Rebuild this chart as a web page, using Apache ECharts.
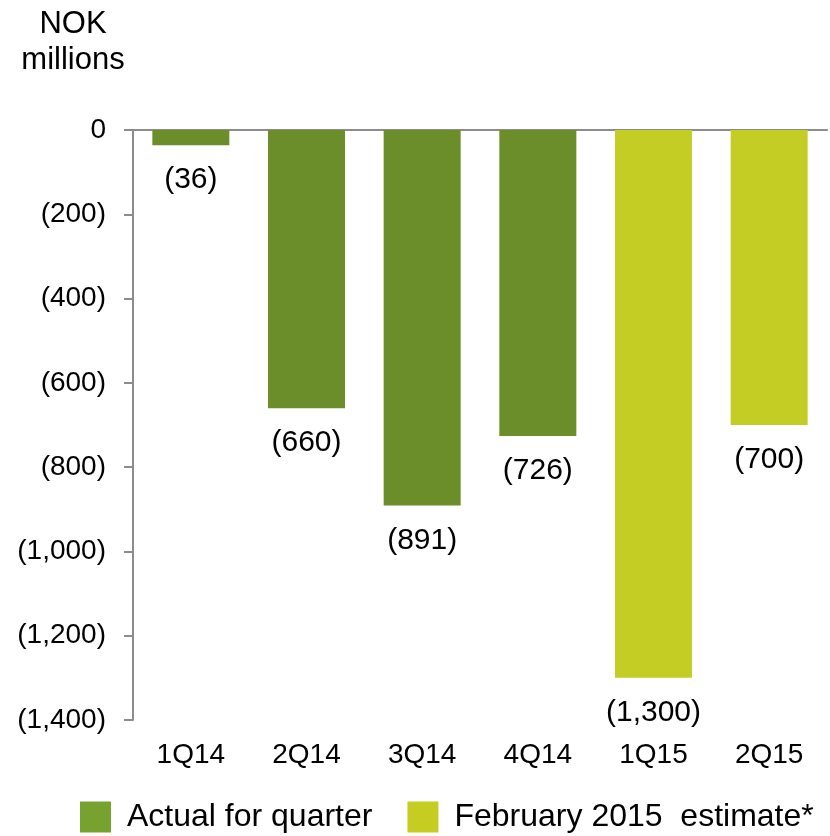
<!DOCTYPE html>
<html>
<head>
<meta charset="utf-8">
<style>html,body{margin:0;padding:0;background:#fff;}#chart{width:830px;height:836px;}</style>
<script src="https://cdn.jsdelivr.net/npm/echarts@6/dist/echarts.min.js"></script>
</head>
<body>
<div id="chart"></div>
<script>
const categories = ['1Q14', '2Q14', '3Q14', '4Q14', '1Q15', '2Q15'];
const actualValues = [-36, -660, -891, -726, null, null];
const estimateValues = [null, null, null, null, -1300, -700];
const seriesNames = ['Actual for quarter', 'February 2015  estimate*'];
const unitLabel = 'NOK\nmillions';

const FONT = '"Liberation Sans", Arial, sans-serif';
function fmt(v) {
  if (v === 0) return '0';
  const s = Math.abs(v).toLocaleString('en-US');
  return v < 0 ? '(' + s + ')' : s;
}

const chart = echarts.init(document.getElementById('chart'));
const labelOpt = {
  show: true, position: 'bottom', distance: 20,
  fontFamily: FONT, fontSize: 30, color: '#000',
  formatter: p => fmt(p.value)
};
chart.setOption({
  animation: false,
  backgroundColor: '#fff',
  textStyle: { fontFamily: FONT },
  graphic: [{
    type: 'text', x: 73, y: 6,
    style: { text: unitLabel, x: 0, y: 0, textAlign: 'center', fontFamily: FONT, fontSize: 31, lineHeight: 36, fill: '#000' }
  }],
  legend: {
    left: 80, top: 801, padding: 0, itemWidth: 31, itemHeight: 31, itemGap: 35,
    icon: 'rect',
    textStyle: { fontFamily: FONT, fontSize: 32, color: '#000', padding: [8, 0, 0, 11] },
    data: [
      { name: seriesNames[0], itemStyle: { color: '#78A22F' } },
      { name: seriesNames[1], itemStyle: { color: '#C5CC22' } }
    ]
  },
  grid: { left: 133, right: 3, top: 130, bottom: 116, containLabel: false },
  xAxis: [{
    type: 'category', data: categories, position: 'bottom',
    axisLine: { show: false }, axisTick: { show: false },
    axisLabel: { fontFamily: FONT, fontSize: 28, color: '#000', margin: 21 }
  }, {
    type: 'category', data: categories, position: 'top',
    axisLine: { show: true, onZero: false, lineStyle: { color: '#8c8c8c', width: 2 } },
    axisTick: { show: false }, axisLabel: { show: false }
  }],
  yAxis: {
    type: 'value', min: -1400, max: 0, interval: 200,
    axisLine: { show: true, lineStyle: { color: '#8c8c8c', width: 2 } },
    axisTick: { show: true, length: 9, lineStyle: { color: '#8c8c8c', width: 2 } },
    splitLine: { show: false },
    axisLabel: { fontFamily: FONT, fontSize: 28, color: '#000', margin: 27, formatter: fmt }
  },
  series: [{
    name: seriesNames[0], type: 'bar', data: actualValues, barWidth: 77, barGap: '-100%',
    itemStyle: { color: '#6B8E2A' }, label: labelOpt
  }, {
    name: seriesNames[1], type: 'bar', data: estimateValues, barWidth: 77, barGap: '-100%',
    itemStyle: { color: '#C4CD24' }, label: labelOpt
  }]
});
</script>
</body>
</html>
